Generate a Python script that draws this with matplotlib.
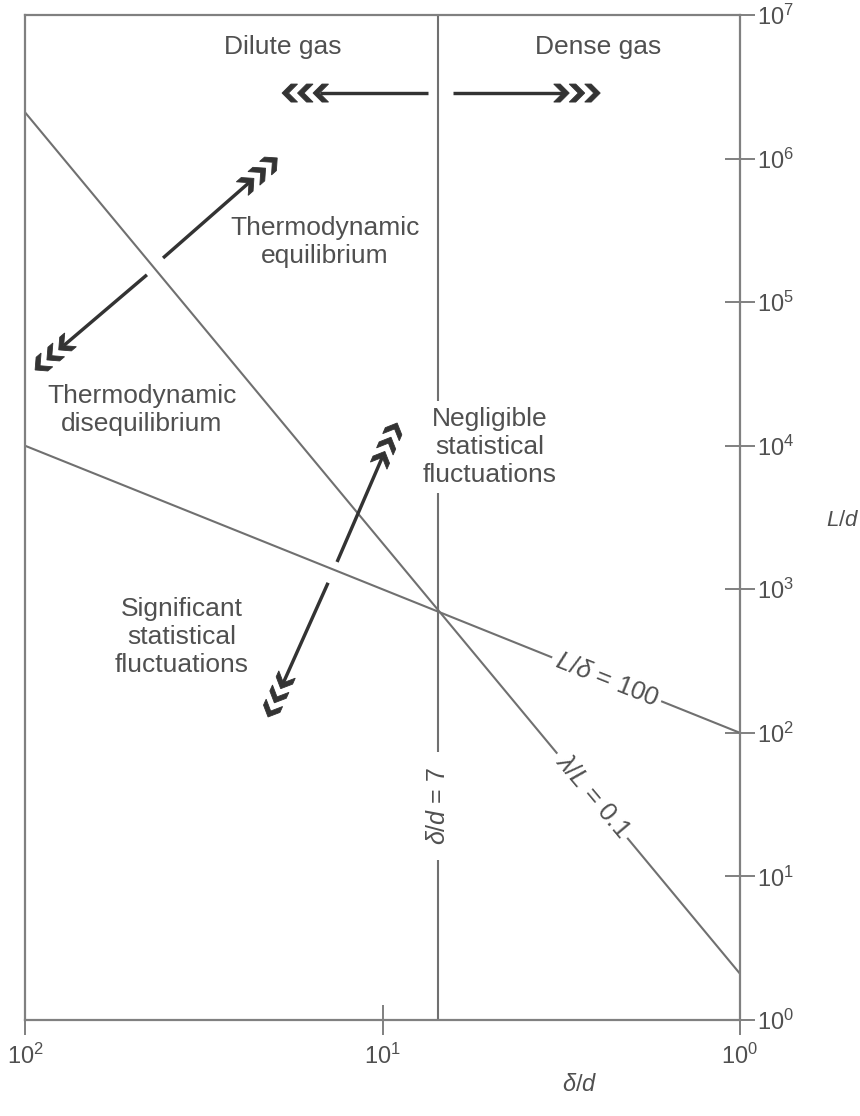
import numpy as np
import matplotlib
matplotlib.use("Agg")
import matplotlib.pyplot as plt
from matplotlib.patches import Polygon

plt.rcParams["font.family"] = ["Liberation Sans", "DejaVu Sans"]
plt.rcParams["mathtext.fontset"] = "custom"
plt.rcParams["mathtext.rm"] = "Liberation Sans"
plt.rcParams["mathtext.it"] = "Liberation Sans:italic"

# ---- data ------------------------------------------------------------
x_limits = [100.0, 1.0]          # delta/d, plotted right-to-left
y_limits = [1.0, 1e7]            # L/d
x_ticks = [100, 10, 1]
x_tick_labels = [r"$10^{2}$", r"$10^{1}$", r"$10^{0}$"]
y_ticks = [1e0, 1e1, 1e2, 1e3, 1e4, 1e5, 1e6, 1e7]
y_tick_labels = [r"$10^{%d}$" % k for k in range(8)]

delta_d_boundary = 7.0                     # delta/d = 7
line_x = [100.0, 1.0]
L_over_delta_y = [1e4, 1e2]                # L/delta = 100
lambda_over_L_y = [2.1e6, 2.1]             # lambda/L = 0.1

# double-headed arrows: (start, tip) for each half
arrow_halves = [
    ((7.46, 2.86e6), (19.1, 2.86e6)),      # towards dilute gas
    ((6.35, 2.86e6), (2.46, 2.86e6)),      # towards dense gas
    ((41.1, 2.03e5), (19.7, 1.01e6)),      # equilibrium
    ((45.6, 1.55e5), (93.7, 3.37e4)),      # disequilibrium
    ((13.4, 1550.0), (9.1, 1.44e4)),       # negligible fluctuations
    ((14.2, 1110.0), (20.9, 129.0)),       # significant fluctuations
]

region_labels = [
    ("Dilute gas", 19.0, 5.98e6),
    ("Dense gas", 2.5, 5.98e6),
    ("Thermodynamic\nequilibrium", 14.5, 2.62e5),
    ("Thermodynamic\ndisequilibrium", 47.1, 1.77e4),
    ("Negligible\nstatistical\nfluctuations", 5.0, 9.8e3),
    ("Significant\nstatistical\nfluctuations", 36.4, 466.0),
]

# ---- figure ----------------------------------------------------------
W, H, DPI = 860, 1116, 100
fig = plt.figure(figsize=(W / DPI, H / DPI), dpi=DPI)
ax = fig.add_axes([25 / W, (H - 1020) / H, 715 / W, 1005 / H])

TEXT = "#505050"
LINE = "#707070"
ARROW = "#333333"

ax.set_xscale("log")
ax.set_yscale("log")
ax.set_xlim(*x_limits)
ax.set_ylim(*y_limits)

for s in ax.spines.values():
    s.set_color("#808080")
    s.set_linewidth(1.6)

ax.set_xticks(x_ticks)
ax.set_xticklabels(x_tick_labels)
ax.set_yticks(y_ticks)
ax.set_yticklabels(y_tick_labels)
ax.minorticks_off()
ax.yaxis.tick_right()
ax.tick_params(axis="x", direction="inout", length=22, width=1.4,
               color="#808080", labelsize=17, labelcolor=TEXT, pad=6)
ax.tick_params(axis="y", direction="inout", length=22, width=1.4,
               color="#808080", labelsize=17, labelcolor=TEXT, pad=1)
ax.tick_params(which="minor", length=0)

# boundary lines
ax.axvline(delta_d_boundary, color=LINE, lw=1.5, zorder=2)
ax.plot(line_x, L_over_delta_y, color=LINE, lw=1.5, zorder=2)
ax.plot(line_x, lambda_over_L_y, color=LINE, lw=1.5, zorder=2)

# line labels, with white boxes breaking the lines
box = dict(facecolor="white", edgecolor="none", pad=3)
ax.text(2.36, 100 * 2.36, r"$L/\delta$ = 100", rotation=-21.7,
        rotation_mode="anchor", ha="center", va="center", fontsize=18.5,
        color=TEXT, bbox=box, zorder=3)
xl = 2.59
ax.text(xl, 2.1 * xl ** 3, r"$\lambda/L$ = 0.1", rotation=-50,
        rotation_mode="anchor", ha="center", va="center", fontsize=18.5,
        color=TEXT, bbox=box, zorder=3)
ax.text(delta_d_boundary, 30.9, r"$\delta/d$ = 7", rotation=90,
        rotation_mode="anchor", ha="center", va="center", fontsize=18,
        color=TEXT, bbox=dict(facecolor="white", edgecolor="none", pad=11),
        zorder=3)

for label, x, y in region_labels:
    ax.text(x, y, label, ha="center", va="center", fontsize=19,
            color=TEXT, linespacing=1.22, zorder=3,
            bbox=dict(facecolor="white", edgecolor="none", pad=4))

# chevron-headed arrows, drawn in display space then mapped back
fig.canvas.draw()
to_disp = ax.transData
to_data = ax.transData.inverted()
spacing, arm, half, thick = 15.5, 9.0, 9.0, 6.5
shaft_pt = 3.4 * 72 / DPI


def chevron_arrow(start, tip):
    p0 = np.array(to_disp.transform(start))
    p1 = np.array(to_disp.transform(tip))
    u = (p1 - p0) / np.hypot(*(p1 - p0))
    n = np.array([-u[1], u[0]])
    shaft_end = p1 - (2 * spacing + thick) * u
    seg = to_data.transform(np.vstack([p0, shaft_end]))
    ax.plot(seg[:, 0], seg[:, 1], color=ARROW, lw=shaft_pt,
            solid_capstyle="butt", zorder=4, clip_on=False)
    for k in range(3):
        t = p1 - k * spacing * u
        pts = np.vstack([
            t,
            t - arm * u + half * n,
            t - (arm + thick) * u + half * n,
            t - thick * u,
            t - (arm + thick) * u - half * n,
            t - arm * u - half * n,
        ])
        d = to_data.transform(pts)
        ax.add_patch(Polygon(d, closed=True, facecolor=ARROW,
                             edgecolor=ARROW, lw=0.6, zorder=4,
                             clip_on=False))


for start, tip in arrow_halves:
    chevron_arrow(start, tip)

# axis titles
fig.text(580 / W, 1 - 1085 / H, r"$\delta/d$", fontsize=17, color=TEXT,
         ha="center", va="center")
fig.text(826 / W, 1 - 520 / H, r"$L/d$", fontsize=16, color=TEXT,
         ha="left", va="center")

fig.savefig("out.png", dpi=DPI, facecolor="white")
